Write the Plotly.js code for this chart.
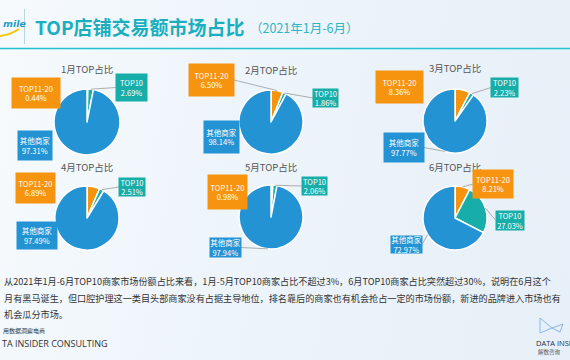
<!DOCTYPE html>
<html>
<head>
<meta charset="utf-8">
<script src="https://cdn.plot.ly/plotly-3.0.1.min.js"></script>
<style>
html,body{margin:0;padding:0;}
body{width:570px;height:360px;overflow:hidden;background:linear-gradient(100deg,#F6FAFD 0%,#EDF4FA 45%,#E7EFF8 100%);}
#chart{width:570px;height:360px;}
</style>
</head>
<body>
<div id="chart"></div>
<script>
// ---- data ----
const months = ['1月', '2月', '3月', '4月', '5月', '6月'];
const seriesNames = ['TOP11-20', 'TOP10', '其他商家'];
const top11to20 = [0.44, 6.50, 8.36, 6.89, 0.98, 8.21];
const top10 = [2.69, 1.86, 2.23, 2.51, 2.06, 27.03];
const others = [97.31, 98.14, 97.77, 97.49, 97.94, 72.97];
const pieTitleSuffix = 'TOP占比';
const mainTitle = 'TOP店铺交易额市场占比';
const subTitle = '（2021年1月-6月）';
const bodyLines = [
  '从2021年1月-6月TOP10商家市场份额占比来看，1月-5月TOP10商家占比不超过3%，6月TOP10商家占比突然超过30%，说明在6月这个',
  '月有黑马诞生，但口腔护理这一类目头部商家没有占据主导地位，排名靠后的商家也有机会抢占一定的市场份额，新进的品牌进入市场也有',
  '机会瓜分市场。'
];

// ---- layout / style config ----
const W = 570, H = 360;
const colors = ['#F7940F', '#17ADA8', '#2393D3'];
const cfg = [
  {cx:87,  cy:122, r:33, ty:69, boxes:[[12,78,60,108,false],[116,74,147,101,true],[18,131,52,160,false]]},
  {cx:271, cy:122, r:32, ty:70, boxes:[[189,64,234,96,true],[313,89,338,107,true],[204,121,239,153,false]]},
  {cx:455, cy:121, r:32, ty:68, boxes:[[376,71,423,103,false],[491,78,518,97,true],[384,133,424,162,true]]},
  {cx:87,  cy:218, r:32, ty:167, boxes:[[16,173,55,203,false],[119,178,145,196,true],[17,222,57,249,false]]},
  {cx:271, cy:217, r:32, ty:167, boxes:[[208,175,247,209,false],[302,177,327,195,true],[210,238,241,257,true]]},
  {cx:455, cy:218, r:32, ty:167, boxes:[[473,170,513,198,true],[496,211,524,230,true],[391,236,422,253,true]]}
];
const CJK = '"Noto Sans CJK SC", "Noto Sans", sans-serif';

const traces = [];
const annotations = [];
const shapes = [];

months.forEach((m, i) => {
  const c = cfg[i];
  const vals = [top11to20[i], top10[i], others[i]];
  traces.push({
    type: 'pie',
    values: vals,
    labels: seriesNames,
    sort: false,
    direction: 'clockwise',
    rotation: 0,
    textinfo: 'none',
    hoverinfo: 'skip',
    showlegend: false,
    marker: {colors: colors, line: {color: '#FFFFFF', width: 1.5}},
    domain: {x: [(c.cx - c.r) / W, (c.cx + c.r) / W], y: [(H - c.cy - c.r) / H, (H - c.cy + c.r) / H]}
  });
  annotations.push({
    xref: 'x', yref: 'y', x: c.cx, y: c.ty, showarrow: false,
    text: m + pieTitleSuffix, font: {family: CJK, size: 9.5, color: '#555555'}
  });
  const total = vals.reduce((a, b) => a + b, 0);
  let cum = 0;
  vals.forEach((v, k) => {
    const mid = (cum + v / 2) / total * 2 * Math.PI;
    cum += v;
    const b = c.boxes[k];
    const bx = (b[0] + b[2]) / 2, by = (b[1] + b[3]) / 2;
    if (b[4]) {
      const px = c.cx + c.r * Math.sin(mid), py = c.cy - c.r * Math.cos(mid);
      const ex = bx > c.cx ? b[0] : b[2];
      shapes.push({type: 'line', xref: 'x', yref: 'y', x0: px, y0: py, x1: ex, y1: by,
        line: {color: '#9A9A9A', width: 0.8}, layer: 'above'});
    }
    annotations.push({
      xref: 'x', yref: 'y', x: bx, y: by, showarrow: false,
      width: b[2] - b[0], height: b[3] - b[1], bgcolor: colors[k], borderpad: 0,
      text: seriesNames[k] + '<br>' + v.toFixed(2) + '%',
      font: {family: CJK, size: 7.5, color: '#FFFFFF'}, align: 'center', valign: 'middle'
    });
  });
});

// header
annotations.push({xref:'x', yref:'y', x:33, y:26, xanchor:'left', showarrow:false,
  text:'<b>' + mainTitle + '</b>', font:{family:CJK, size:19, color:'#1AAFBF'}});
annotations.push({xref:'x', yref:'y', x:248, y:27, xanchor:'left', showarrow:false,
  text: subTitle, font:{family:CJK, size:12.5, color:'#2DB6C4'}});
annotations.push({xref:'x', yref:'y', x:1, y:23, xanchor:'left', showarrow:false,
  text:'<b><i>mile</i></b>', font:{family:'"DejaVu Sans", sans-serif', size:9.5, color:'#1F9DC8'}});
shapes.push({type:'path', xref:'x', yref:'y', path:'M 0 36 Q 10 35 19 29', line:{color:'#F5C400', width:2}});
shapes.push({type:'line', xref:'x', yref:'y', x0:24.5, y0:9, x1:24.5, y1:44, line:{color:'#B8D8E0', width:1}});
shapes.push({type:'line', xref:'x', yref:'y', x0:0, y0:48.5, x1:570, y1:48.5, line:{color:'#20C3CF', width:1.6}});

// body text
const lineY = [281, 298, 314];
bodyLines.forEach((t, i) => {
  annotations.push({xref:'x', yref:'y', x:2, y:lineY[i], xanchor:'left', showarrow:false,
    text:t, font:{family:CJK, size:9.15, color:'#333333'}});
});

// footer
annotations.push({xref:'x', yref:'y', x:1, y:330, xanchor:'left', showarrow:false,
  text:'用数据洞察电商', font:{family:CJK, size:6, color:'#333333'}});
annotations.push({xref:'x', yref:'y', x:0, y:343, xanchor:'left', showarrow:false,
  text:'TA INSIDER CONSULTING', font:{family:'"Open Sans", "DejaVu Sans", sans-serif', size:9, color:'#333333'}});
annotations.push({xref:'x', yref:'y', x:534, y:343, xanchor:'left', showarrow:false,
  text:'DATA INSI', font:{family:'"Open Sans", "DejaVu Sans", sans-serif', size:7.5, color:'#2A2F45'}});
annotations.push({xref:'x', yref:'y', x:536, y:352, xanchor:'left', showarrow:false,
  text:'解数咨询', font:{family:CJK, size:5.5, color:'#555555'}});
shapes.push({type:'path', xref:'x', yref:'y', path:'M 540 318 L 552 328 L 563 324 L 560 332 L 552 328 L 540 333 Z',
  line:{color:'#7FB2E0', width:0.9}, fillcolor:'rgba(0,0,0,0)'});

Plotly.newPlot('chart', traces, {
  width: W, height: H,
  margin: {l:0, r:0, t:0, b:0},
  paper_bgcolor: 'rgba(0,0,0,0)',
  plot_bgcolor: 'rgba(0,0,0,0)',
  xaxis: {range:[0, W], visible:false, fixedrange:true},
  yaxis: {range:[H, 0], visible:false, fixedrange:true},
  annotations: annotations,
  shapes: shapes
}, {displayModeBar:false, staticPlot:true});
</script>
</body>
</html>
